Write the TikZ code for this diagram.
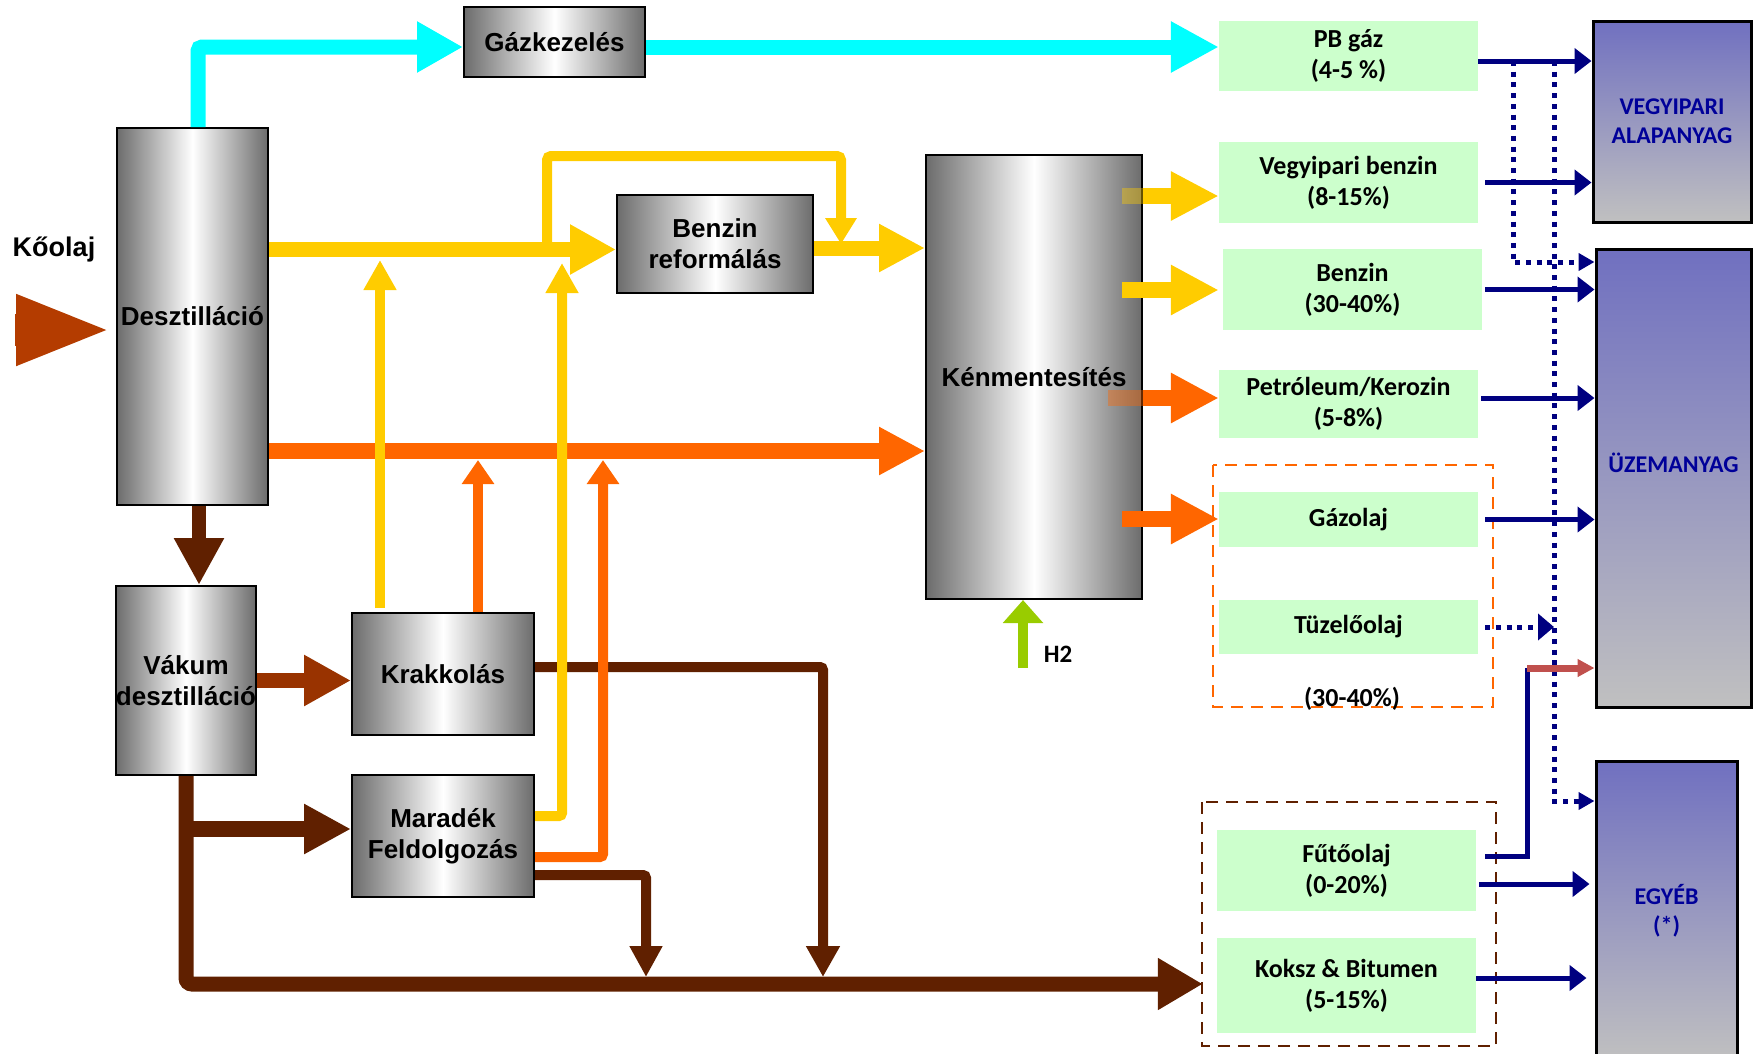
\documentclass[tikz,border=0pt]{standalone}
\usepackage{fontspec}
\setmainfont{Liberation Sans}
\newfontfamily\calib{Carlito}
\usetikzlibrary{arrows.meta,calc}

\definecolor{flowcyan}{RGB}{0,255,255}
\definecolor{flowyellow}{RGB}{255,204,0}
\definecolor{floworange}{RGB}{255,102,0}
\definecolor{flowbrown}{RGB}{96,32,0}
\definecolor{flowrust}{RGB}{153,51,0}
\definecolor{feedred}{RGB}{180,60,0}
\definecolor{hydrogen}{RGB}{153,204,0}
\definecolor{prodgreen}{RGB}{204,255,204}
\definecolor{catblue}{RGB}{112,112,192}
\definecolor{catgray}{RGB}{192,192,192}
\definecolor{catnavy}{RGB}{0,0,128}
\definecolor{catink}{RGB}{0,0,153}
\definecolor{unitgray}{RGB}{108,108,108}
\definecolor{mixred}{RGB}{192,80,77}

\tikzset{
  unit/.style={draw=black, line width=2pt, left color=unitgray, right color=unitgray,
    middle color=white, inner sep=0pt, align=center,
    font=\bfseries\fontsize{26}{31}\selectfont},
  product/.style={fill=prodgreen, inner sep=0pt, minimum width=259pt, align=center,
    font=\calib\bfseries\fontsize{26}{31}\selectfont},
  category/.style={draw=black, line width=3pt, top color=catblue, bottom color=catgray,
    inner sep=0pt, align=center, text=catink,
    font=\calib\bfseries\fontsize{24}{29}\selectfont},
  catlabel/.style={text=catink, font=\calib\bfseries\fontsize{24}{29}\selectfont},
  thinflow/.style={line width=10pt, -{Triangle[width=31pt,length=30pt]}},
  outflow/.style={draw=catnavy, line width=5pt, -{Triangle[width=25pt,length=17pt]}},
  dotflow/.style={draw=catnavy, line width=5pt, dash pattern=on 5pt off 5.7pt,
    -{Triangle[width=17pt,length=16pt]}},
  groupbox/.style={line width=2.5pt, dash pattern=on 12pt off 8pt},
}

\begin{document}
\begin{tikzpicture}[x=1pt, y=-1pt]
  \useasboundingbox (0,0) rectangle (1754,1053);
  \clip (0,0) rectangle (1754,1053);

  \node[unit, minimum width=151pt, minimum height=377pt] (dest) at (192.5,316.5) {Desztilláció};
  \node[unit, minimum width=181pt, minimum height=70pt] (gas) at (554.5,42) {Gázkezelés};
  \node[unit, minimum width=196pt, minimum height=98pt] (reform) at (715,244) {Benzin\\reformálás};
  \node[unit, minimum width=216pt, minimum height=444pt] (desulf) at (1034,377) {Kénmentesítés};
  \node[unit, minimum width=136pt, minimum height=189pt] (vac) at (186,680.5) {Vákum\\desztilláció};
  \node[unit, minimum width=182pt, minimum height=122pt] (crack) at (443,674) {Krakkolás};
  \node[unit, minimum width=182pt, minimum height=122pt] (resid) at (443,836) {Maradék\\Feldolgozás};

  \node[product, minimum height=70pt] (pb) at (1348.5,56) {PB gáz\\(4-5 \%)};
  \node[product, minimum height=81pt] (vbenz) at (1348.5,182.5) {Vegyipari benzin\\(8-15\%)};
  \node[product, minimum height=81pt] (benz) at (1352.5,289.5) {Benzin\\(30-40\%)};
  \node[product, minimum height=68pt] (kero) at (1348.5,404) {Petróleum/Kerozin\\(5-8\%)};
  \node[product, minimum height=55pt] (diesel) at (1348.5,519.5) {Gázolaj};
  \node[product, minimum height=54pt] (fuel) at (1348.5,627) {Tüzelőolaj};
  \node[product, minimum height=81pt] (heat) at (1346.5,870.5) {Fűtőolaj\\(0-20\%)};
  \node[product, minimum height=95pt] (coke) at (1346.5,985.5) {Koksz \& Bitumen\\(5-15\%)};

  \draw[floworange, groupbox] (1213,465) rectangle (1493,707);
  \draw[flowbrown, groupbox] (1202,802) rectangle (1496,1046);
  \node[font=\calib\bfseries\fontsize{26}{31}\selectfont] (share) at (1352,699) {(30-40\%)};

  \node[category, minimum width=158pt, minimum height=201pt] (chem) at (1672,121.5) {VEGYIPARI\\ALAPANYAG};
  \node[category, minimum width=155pt, minimum height=458pt,
    label={[catlabel, yshift=15pt]center:ÜZEMANYAG}] (fuelcat) at (1673.5,478) {};
  \node[category, minimum width=141pt, minimum height=300pt] (other) at (1666.5,911) {EGYÉB\\(*)};

  % feed
  \node[font=\bfseries\fontsize{27}{32}\selectfont] (crude) at (54,250) {Kőolaj};
  \coordinate (feed) at (15,330);
  \draw[feedred, line width=32pt, shorten >=4pt, -{Triangle[width=64pt,length=96pt]}]
    (feed) -- (dest.west |- feed);

  % gas
  \draw[flowcyan, line width=15pt, rounded corners=4pt, -{Triangle[width=48pt,length=46pt]}]
    (dest.north -| 198,0) |- (gas.west |- 0,47);
  \draw[flowcyan, line width=15pt, -{Triangle[width=48pt,length=48pt]}]
    (gas.east |- 0,47) -- (pb.west |- 0,47);

  % residue lines
  \draw[flowbrown, line width=14pt, -{Triangle[width=47pt,length=47pt]}]
    (dest.south -| 199,0) -- (vac.north -| 199,0);
  \draw[flowrust, line width=15pt, -{Triangle[width=48pt,length=47pt]}]
    (vac.east) -- (crack.west |- vac.east);
  \draw[flowbrown, line width=15pt, rounded corners=6pt, shorten >=14pt,
    -{Triangle[width=49pt,length=45pt]}] (vac.south) |- (coke.west |- 0,984);
  \draw[flowbrown, line width=16pt, -{Triangle[width=47pt,length=47pt]}]
    (vac.south |- 0,829) -- (resid.west |- 0,829);
  \coordinate (cb) at (823,977);
  \coordinate (rb) at (646,977);
  \draw[flowbrown, line width=10pt, rounded corners=3pt, -{Triangle[width=32pt,length=31pt]}]
    (crack.east |- 0,667) -| (cb);
  \draw[flowbrown, line width=10pt, rounded corners=3pt, -{Triangle[width=31pt,length=31pt]}]
    (resid.east |- 0,875) -| (rb);

  % middle distillate
  \draw[floworange, line width=16pt, -{Triangle[width=45pt,length=46pt]}]
    (dest.east |- 0,451) -- (desulf.west |- 0,451);
  \coordinate (ko) at (478,460);
  \coordinate (mo) at (603,460);
  \draw[floworange, line width=10pt, -{Triangle[width=31pt,length=24pt]}]
    (crack.north -| ko) -- (ko);
  \draw[floworange, line width=10pt, rounded corners=3pt, -{Triangle[width=31pt,length=24pt]}]
    (resid.east |- 0,857) -| (mo);

  % naphtha
  \draw[flowyellow, line width=15pt, -{Triangle[width=47pt,length=46pt]}]
    (dest.east |- 0,249.5) -- (reform.west |- 0,249.5);
  \draw[flowyellow, line width=15pt, -{Triangle[width=45pt,length=46pt]}]
    (reform.east |- 0,248) -- (desulf.west |- 0,248);
  \coordinate (split) at (547,249.5);
  \coordinate (merge) at (841,244);
  \draw[flowyellow, line width=10pt, rounded corners=4pt, -{Triangle[width=30pt,length=26pt]}]
    (split) -- (split |- 0,156) -| (merge);
  \coordinate (ky) at (380,260);
  \coordinate (my) at (562,263);
  \draw[flowyellow, thinflow, shorten <=4pt] (crack.north -| ky) -- (ky);
  \draw[flowyellow, thinflow, rounded corners=3pt] (resid.east |- 0,816) -| (my);

  % hydrogen
  \coordinate (h2in) at (1023,668);
  \draw[hydrogen, line width=10pt, -{Triangle[width=39pt,length=23pt]}]
    (h2in) -- (desulf.south -| h2in);
  \node[font=\calib\bfseries\fontsize{25}{30}\selectfont] (h2) at (1058,654) {H2};

  % products
  \draw[flowyellow, line width=16pt, -{Triangle[width=46pt,length=48pt]}]
    (desulf.east |- 0,196) -- (vbenz.west |- 0,196);
  \draw[flowyellow, opacity=.4, line width=16pt]
    ($(desulf.east |- 0,196)+(-21,0)$) -- (desulf.east |- 0,196);
  \draw[flowyellow, line width=16pt, shorten >=4pt, -{Triangle[width=47pt,length=48pt]}]
    ($(desulf.east |- 0,290)+(-21,0)$) -- (benz.west |- 0,290);
  \draw[floworange, line width=16pt, -{Triangle[width=47pt,length=48pt]}]
    (desulf.east |- 0,398) -- (kero.west |- 0,398);
  \draw[floworange, opacity=.4, line width=16pt]
    ($(desulf.east |- 0,398)+(-35,0)$) -- (desulf.east |- 0,398);
  \draw[floworange, line width=16pt, -{Triangle[width=47pt,length=48pt]}]
    ($(desulf.east |- 0,519)+(-21,0)$) -- (diesel.west |- 0,519);

  % destinations
  \coordinate (pbout) at ($(pb.east)+(0,5)$);
  \draw[dotflow] (pbout -| 1513,0) |- (fuelcat.west |- 0,262);
  \draw[dotflow] (pbout -| 1554,0) |- (other.west |- 0,801);
  \draw[outflow] (pbout) -- (chem.west |- pbout);
  \draw[outflow, shorten <=7pt] (vbenz.east) -- (chem.west |- vbenz.east);
  \draw[outflow, shorten <=3pt] (benz.east) -- (fuelcat.west |- benz.east);
  \draw[outflow, shorten <=3pt] (kero.east |- 0,398) -- (fuelcat.west |- 0,398);
  \draw[outflow, shorten <=7pt] (diesel.east) -- (fuelcat.west |- diesel.east);
  \draw[dotflow, shorten <=7pt, -{Triangle[width=26pt,length=16pt]}]
    (fuel.east) -- (fuel.east -| 1554,0);
  \coordinate (hop) at (1527,668);
  \draw[catnavy, line width=5pt, shorten <=9pt] (heat.east |- 0,856) -| (hop);
  \draw[mixred, line width=7pt, -{Triangle[width=17pt,length=17pt]}]
    (hop) -- (fuelcat.west |- hop);
  \draw[outflow, shorten <=3pt, shorten >=5pt] (heat.east |- 0,884) -- (other.west |- 0,884);
  \draw[outflow, shorten >=8pt] (coke.east |- 0,978) -- (other.west |- 0,978);
\end{tikzpicture}
\end{document}
